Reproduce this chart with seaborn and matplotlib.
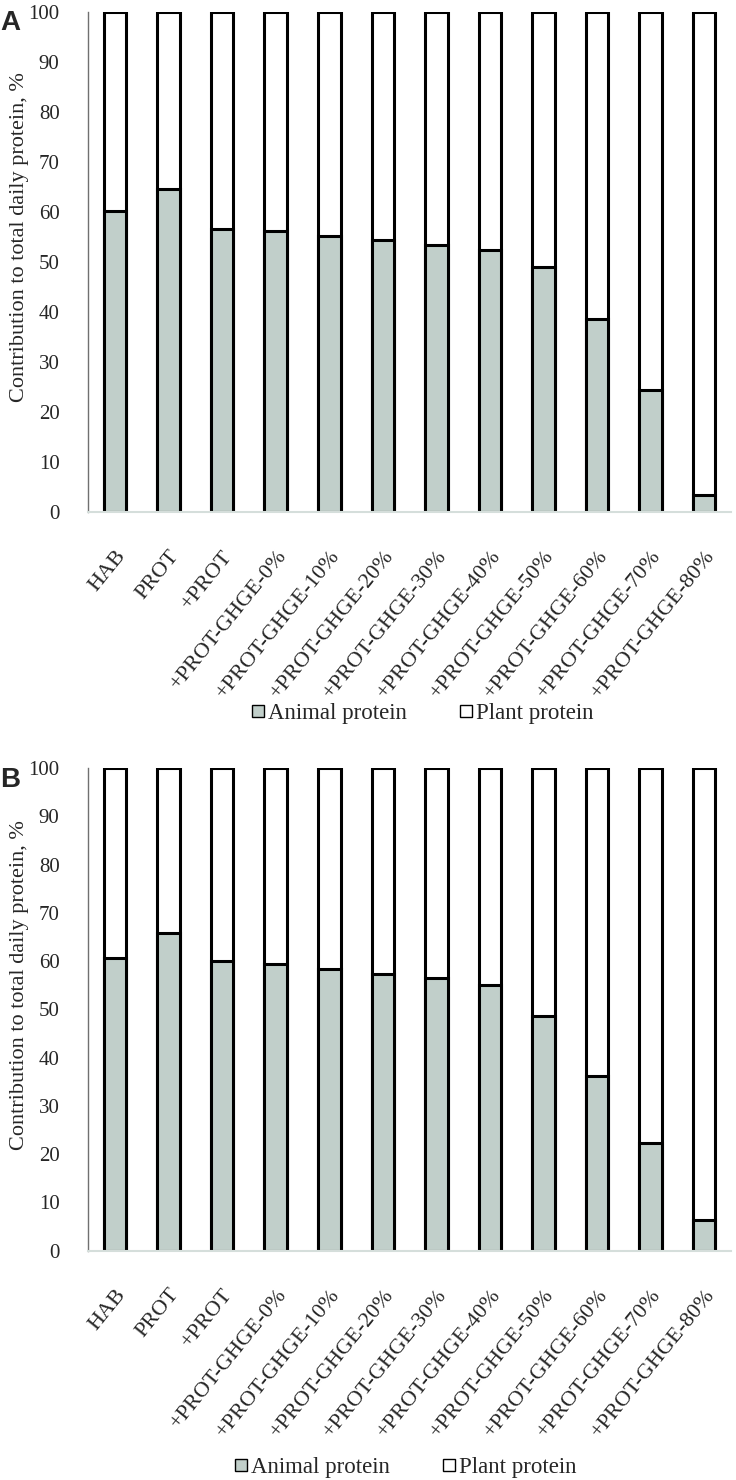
import numpy as np
import seaborn as sns
import matplotlib.pyplot as plt
from matplotlib.lines import Line2D

# Scenario names and animal-protein share (% of total daily protein)
scenarios = ["HAB", "PROT", "+PROT", "+PROT-GHGE-0%", "+PROT-GHGE-10%",
             "+PROT-GHGE-20%", "+PROT-GHGE-30%", "+PROT-GHGE-40%",
             "+PROT-GHGE-50%", "+PROT-GHGE-60%", "+PROT-GHGE-70%",
             "+PROT-GHGE-80%"]
animal_a = [60.2, 64.6, 56.5, 56.1, 55.2, 54.3, 53.4, 52.4, 48.9, 38.6, 24.4, 3.5]
animal_b = [60.7, 65.9, 60.0, 59.3, 58.4, 57.4, 56.5, 55.0, 48.6, 36.1, 22.3, 6.4]
total = [100] * len(scenarios)
yticks = list(range(0, 101, 10))

animal_color = "#c1cfca"

sns.set_style("white")
plt.rcParams["font.family"] = ["Liberation Serif", "DejaVu Serif"]

fig = plt.figure(figsize=(7.36, 14.8), dpi=100)
ax_a = fig.add_axes([0.12, 0.654, 0.873, 0.338])
ax_b = fig.add_axes([0.12, 0.155, 0.873, 0.326])


def draw_panel(ax, animal):
    # plant protein fills up to 100, animal protein drawn over it
    sns.barplot(x=scenarios, y=total, color="white", edgecolor="black",
                linewidth=2.2, width=0.42, saturation=1, ax=ax)
    sns.barplot(x=scenarios, y=animal, color=animal_color, edgecolor="black",
                linewidth=2.2, width=0.42, saturation=1, ax=ax)
    ax.set_ylim(0, 100)
    ax.set_xlim(-0.5, len(scenarios) - 0.5)
    ax.set_yticks(yticks)
    ax.set_yticklabels([str(t) for t in yticks], fontsize=15)
    ax.tick_params(axis="y", direction="inout", length=9.5, width=1,
                   color="#707070", pad=16)
    ax.set_ylabel("Contribution to total daily protein, %", fontsize=16)
    ax.yaxis.set_label_coords(-0.092, 0.55)
    ax.set_xlabel("")
    ax.set_xticks(range(len(scenarios)))
    ax.set_xticklabels(scenarios, rotation=51, ha="right",
                       rotation_mode="anchor", fontsize=16)
    ax.tick_params(axis="x", length=0, pad=25)
    ax.set_xticks(np.arange(-0.5, len(scenarios)), minor=True)
    ax.tick_params(axis="x", which="minor", direction="out", length=6,
                   width=1.2, color="#d5dedb")
    for s in ["top", "right"]:
        ax.spines[s].set_visible(False)
    ax.spines["left"].set_color("#707070")
    ax.spines["left"].set_linewidth(1)
    ax.spines["bottom"].set_color("#d5dedb")
    ax.spines["bottom"].set_linewidth(1.5)


draw_panel(ax_a, animal_a)
draw_panel(ax_b, animal_b)

handles = [
    Line2D([], [], marker="s", linestyle="none", markersize=8,
           markerfacecolor=animal_color, markeredgecolor="black",
           markeredgewidth=1, label="Animal protein"),
    Line2D([], [], marker="s", linestyle="none", markersize=8,
           markerfacecolor="white", markeredgecolor="black",
           markeredgewidth=1, label="Plant protein"),
]
for y, x in [(0.518, 0.573), (0.0085, 0.55)]:
    fig.legend(handles=handles, loc="center", bbox_to_anchor=(x, y),
               ncol=2, frameon=False, fontsize=16.5, handletextpad=0.1,
               columnspacing=2.2, handlelength=0.7, borderpad=0.1)

fig.text(0.0, 0.993, "A", fontsize=20, fontweight="bold",
         family="Liberation Sans", va="top", ha="left")
fig.text(0.0, 0.482, "B", fontsize=20, fontweight="bold",
         family="Liberation Sans", va="top", ha="left")

fig.savefig("out.png", dpi=100)
